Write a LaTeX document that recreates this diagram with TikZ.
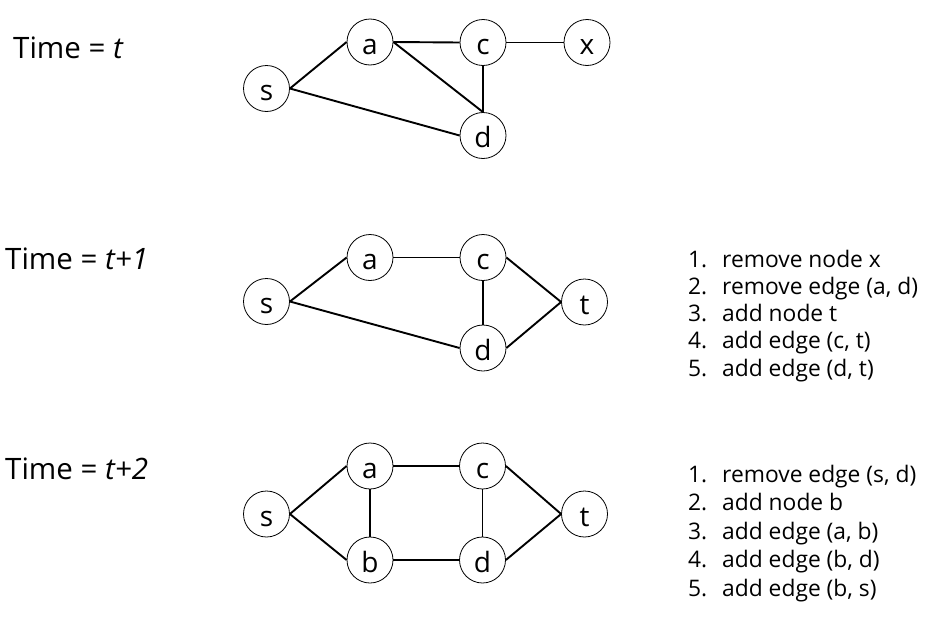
\documentclass[tikz,border=0pt]{standalone}
\usepackage{fontspec}
\setmainfont{Open Sans}
\usepackage{tikz}
\usetikzlibrary{positioning}

\tikzset{
    vtx/.style={circle, draw, line width=0.8pt, minimum size=46pt, inner sep=0pt,
        font=\fontsize{28}{30}\selectfont, text height=24pt, text depth=0pt},
    lnk/.style={line width=1.9pt},
    timelbl/.style={anchor=base west, inner sep=0pt, font=\fontsize{29.5}{34}\selectfont},
    steplbl/.style={anchor=base west, inner sep=0pt, font=\fontsize{22.8}{26}\selectfont}
}

\begin{document}
\begin{tikzpicture}[x=1pt, y=-1pt]
    \useasboundingbox (0,0) rectangle (932,616);

    % time = t
    \node[timelbl] (time0) at (13,58) {Time = \textit{t}};
    \node[vtx] (s0) at (266.5,88.5) {s};
    \node[vtx] (a0) at (370,42) {a};
    \node[vtx] (c0) at (483,42.5) {c};
    \node[vtx] (x0) at (587,42.5) {x};
    \node[vtx] (d0) at (483,135.5) {d};
    \draw[lnk] (s0.east) -- (a0.west);
    \draw[lnk] (a0.east) -- (c0.west);
    \draw[lnk] (c0.east) -- (x0.west);
    \draw[lnk] (a0.east) -- (d0.north);
    \draw[lnk] (c0.south) -- (d0.north);
    \draw[lnk] (s0.east) -- (d0.west);

    % time = t+1
    \node[timelbl] (time1) at (5,269) {Time = \textit{t+1}};
    \node[vtx] (s1) at (266.5,301.5) {s};
    \node[vtx] (a1) at (370,257.5) {a};
    \node[vtx] (c1) at (483,257.5) {c};
    \node[vtx] (d1) at (483,348) {d};
    \node[vtx] (t1) at (584.5,302) {t};
    \draw[lnk] (s1.east) -- (a1.west);
    \draw[lnk] (a1.east) -- (c1.west);
    \draw[lnk] (s1.east) -- (d1.west);
    \draw[lnk] (c1.south) -- (d1.north);
    \draw[lnk] (c1.east) -- (t1.west);
    \draw[lnk] (d1.east) -- (t1.west);

    \foreach \txt [count=\i] in {remove node x, {remove edge (a, d)}, add node t,
        {add edge (c, t)}, {add edge (d, t)}} {
        \node[steplbl] (numA\i) at (688,{267+27.3*(\i-1)}) {\i.};
        \node[steplbl] (stepA\i) at (722,{267+27.3*(\i-1)}) {\txt};
    }

    % time = t+2
    \node[timelbl] (time2) at (5,479) {Time = \textit{t+2}};
    \node[vtx] (s2) at (266.5,514) {s};
    \node[vtx] (a2) at (370,466) {a};
    \node[vtx] (c2) at (482.5,466) {c};
    \node[vtx] (b2) at (370,560) {b};
    \node[vtx] (d2) at (482.5,560) {d};
    \node[vtx] (t2) at (584.5,514) {t};
    \draw[lnk] (s2.east) -- (a2.west);
    \draw[lnk] (s2.east) -- (b2.west);
    \draw[lnk] (a2.south) -- (b2.north);
    \draw[lnk] (a2.east) -- (c2.west);
    \draw[lnk] (b2.east) -- (d2.west);
    \draw[lnk] (c2.south) -- (d2.north);
    \draw[lnk] (c2.east) -- (t2.west);
    \draw[lnk] (d2.east) -- (t2.west);

    \foreach \txt [count=\i] in {{remove edge (s, d)}, add node b, {add edge (a, b)},
        {add edge (b, d)}, {add edge (b, s)}} {
        \node[steplbl] (numB\i) at (688,{482+28.6*(\i-1)}) {\i.};
        \node[steplbl] (stepB\i) at (722,{482+28.6*(\i-1)}) {\txt};
    }
\end{tikzpicture}
\end{document}
